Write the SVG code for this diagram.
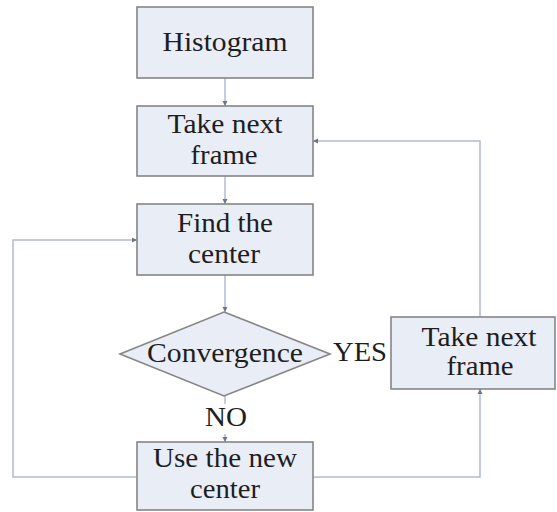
<svg xmlns="http://www.w3.org/2000/svg" width="557" height="512" viewBox="0 0 557 512">
<style>
.box{fill:#e9edf6;stroke:#858585;stroke-width:1.6}
.lbl{font-family:"Liberation Serif","Times New Roman",serif;font-size:27px;fill:#1e1e1e;text-anchor:middle}
.con{fill:none;stroke:#b3bbd3;stroke-width:1.5}
</style>
<defs>
<marker id="arr" markerWidth="6" markerHeight="6" refX="5" refY="3" orient="auto" markerUnits="userSpaceOnUse">
<path d="M0,0.5 L5,3 L0,5.5 Z" fill="#6d7488"/>
</marker>
</defs>
<rect width="557" height="512" fill="#ffffff"/>
<g id="connectors">
<path class="con" d="M225,78 V106" marker-end="url(#arr)"/>
<path class="con" d="M225,176 V204" marker-end="url(#arr)"/>
<path class="con" d="M225,275 V312" marker-end="url(#arr)"/>
<path class="con" d="M225,396 V404"/>
<path class="con" d="M225,434 V442" marker-end="url(#arr)"/>
<path class="con" d="M480,317 V141 H313" marker-end="url(#arr)"/>
<path class="con" d="M313,477 H480 V389" marker-end="url(#arr)"/>
<path class="con" d="M136,477 H13 V240 H137" marker-end="url(#arr)"/>
<text class="lbl" x="360" y="361" textLength="54" lengthAdjust="spacingAndGlyphs">YES</text>
<text class="lbl" x="226" y="426" textLength="42" lengthAdjust="spacingAndGlyphs">NO</text>
</g>
<g id="histogram">
<rect class="box" x="137" y="7" width="176" height="71"/>
<text class="lbl" x="225" y="51" textLength="125" lengthAdjust="spacingAndGlyphs">Histogram</text>
</g>
<g id="take-next-frame">
<rect class="box" x="137" y="106" width="176" height="70"/>
<text class="lbl" x="225" y="133" textLength="115" lengthAdjust="spacingAndGlyphs">Take next</text>
<text class="lbl" x="224" y="164" textLength="67" lengthAdjust="spacingAndGlyphs">frame</text>
</g>
<g id="find-center">
<rect class="box" x="137" y="204" width="176" height="71"/>
<text class="lbl" x="225" y="232" textLength="96" lengthAdjust="spacingAndGlyphs">Find the</text>
<text class="lbl" x="224" y="263" textLength="72" lengthAdjust="spacingAndGlyphs">center</text>
</g>
<g id="convergence">
<polygon class="box" points="224,312 330,354 224,396 120,354"/>
<text class="lbl" x="225" y="362" textLength="156" lengthAdjust="spacingAndGlyphs">Convergence</text>
</g>
<g id="take-next-frame-2">
<rect class="box" x="391" y="317" width="164" height="72"/>
<text class="lbl" x="479" y="346" textLength="115" lengthAdjust="spacingAndGlyphs">Take next</text>
<text class="lbl" x="480" y="375" textLength="67" lengthAdjust="spacingAndGlyphs">frame</text>
</g>
<g id="use-new-center">
<rect class="box" x="137" y="442" width="176" height="68"/>
<text class="lbl" x="225" y="467" textLength="144" lengthAdjust="spacingAndGlyphs">Use the new</text>
<text class="lbl" x="225" y="498" textLength="70" lengthAdjust="spacingAndGlyphs">center</text>
</g>
</svg>
